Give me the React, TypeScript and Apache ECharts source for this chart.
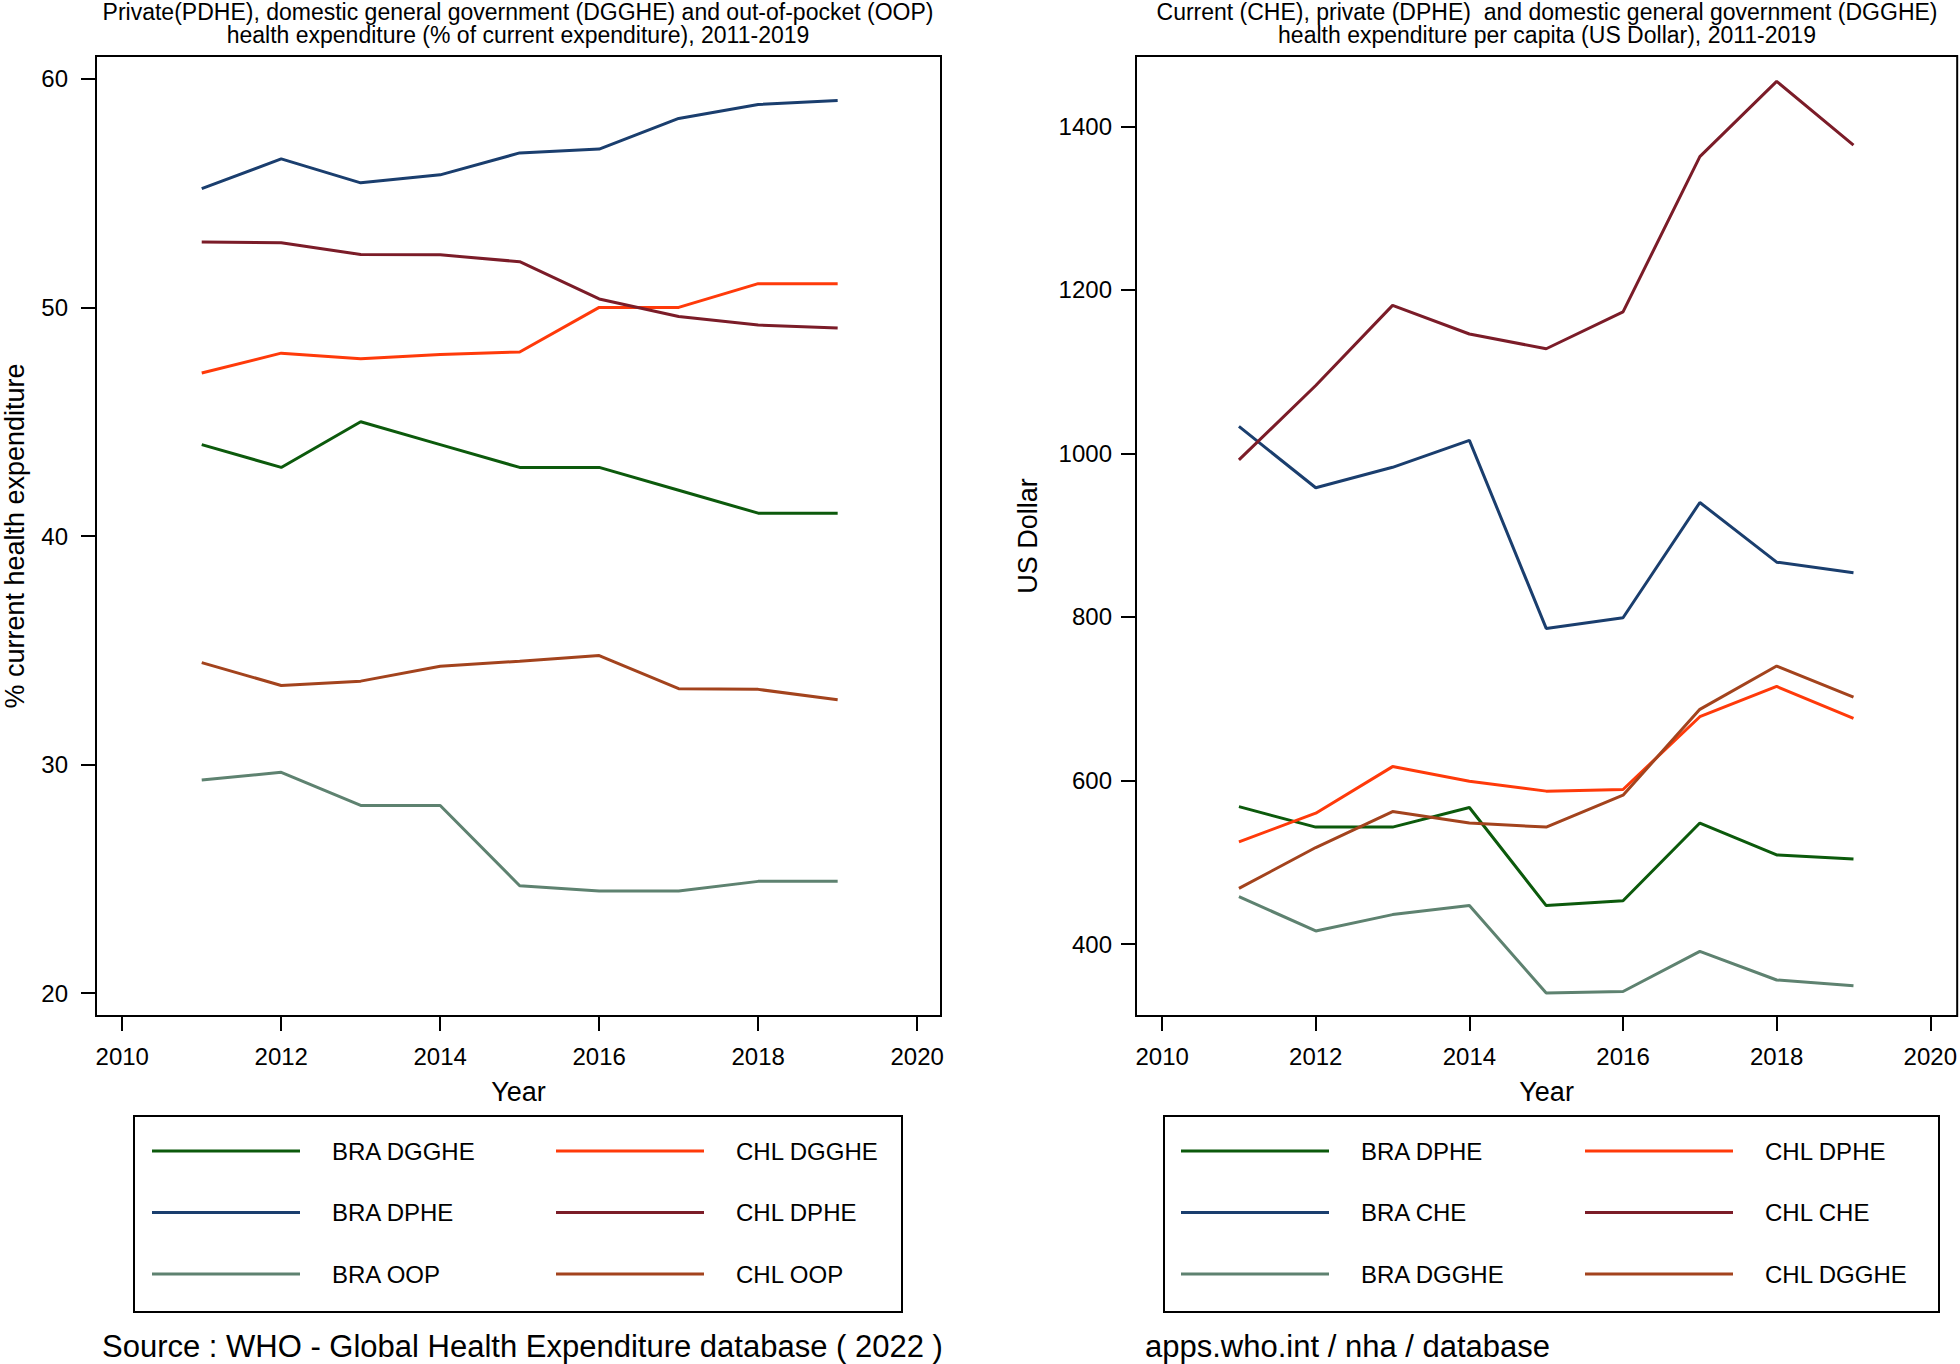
import React, { useEffect, useRef } from "react";
import * as echarts from "echarts";

const years = [2011, 2012, 2013, 2014, 2015, 2016, 2017, 2018, 2019];

// Left panel: % of current health expenditure
const braDgghePct = [44, 43, 45, 44, 43, 43, 42, 41, 41];
const braDphePct = [55.2, 56.5, 55.45, 55.8, 56.76, 56.93, 58.27, 58.88, 59.05];
const braOopPct = [29.33, 29.66, 28.21, 28.21, 24.7, 24.47, 24.47, 24.89, 24.89];
const chlDgghePct = [47.13, 48.0, 47.75, 47.94, 48.05, 50.0, 50.0, 51.04, 51.04];
const chlDphePct = [52.86, 52.83, 52.32, 52.3, 52.0, 50.37, 49.6, 49.23, 49.1];
const chlOopPct = [34.46, 33.46, 33.65, 34.3, 34.52, 34.77, 33.32, 33.29, 32.84];

// Right panel: per capita US Dollar
const braDphePc = [568, 543, 543, 567, 447, 453, 548, 509, 504];
const braChePc = [1033, 958, 983, 1016, 786, 799, 940, 867, 854];
const braDgghePc = [458, 416, 436, 447, 340, 342, 391, 356, 349];
const chlDphePc = [525, 560, 617, 599, 587, 589, 678, 715, 676];
const chlChePc = [992, 1083, 1181, 1146, 1128, 1173, 1363, 1455, 1377];
const chlDgghePc = [468, 518, 562, 548, 543, 582, 687, 740, 702];

const xTicks = [2010, 2012, 2014, 2016, 2018, 2020];
const yTicksLeft = [20, 30, 40, 50, 60];
const yTicksRight = [400, 600, 800, 1000, 1200, 1400];

const leftTitle =
  "Private(PDHE), domestic general government (DGGHE) and out-of-pocket (OOP)\nhealth expenditure (% of current expenditure), 2011-2019";
const rightTitle =
  "Current (CHE), private (DPHE)  and domestic general government (DGGHE)\nhealth expenditure per capita (US Dollar), 2011-2019";
const leftYName = "% current health expenditure";
const rightYName = "US Dollar";
const xName = "Year";
const leftSource = "Source : WHO - Global Health Expenditure database ( 2022 )";
const rightSource = "apps.who.int / nha / database";

const SUFFIX = " (per capita)";

const C_GREEN = "#0c5a0c";
const C_NAVY = "#1a3e6e";
const C_TEAL = "#5e8270";
const C_ORANGE = "#ff3a0a";
const C_MAROON = "#7b1c28";
const C_SIENNA = "#a3431d";

const FONT = 'Arial, "Liberation Sans", sans-serif';

const leftSeries = [
  { name: "BRA DGGHE", values: braDgghePct, color: C_GREEN },
  { name: "BRA DPHE", values: braDphePct, color: C_NAVY },
  { name: "BRA OOP", values: braOopPct, color: C_TEAL },
  { name: "CHL DGGHE", values: chlDgghePct, color: C_ORANGE },
  { name: "CHL DPHE", values: chlDphePct, color: C_MAROON },
  { name: "CHL OOP", values: chlOopPct, color: C_SIENNA },
];

const rightSeries = [
  { name: "BRA DPHE", values: braDphePc, color: C_GREEN },
  { name: "BRA CHE", values: braChePc, color: C_NAVY },
  { name: "BRA DGGHE", values: braDgghePc, color: C_TEAL },
  { name: "CHL DPHE", values: chlDphePc, color: C_ORANGE },
  { name: "CHL CHE", values: chlChePc, color: C_MAROON },
  { name: "CHL DGGHE", values: chlDgghePc, color: C_SIENNA },
];

function makeSeries(defs: any[], axisIndex: number, suffix: string) {
  return defs.map((d) => ({
    type: "line",
    name: d.name + suffix,
    xAxisIndex: axisIndex,
    yAxisIndex: axisIndex,
    data: years.map((y, i) => [y, d.values[i]]),
    symbol: "none",
    showSymbol: false,
    color: d.color,
    itemStyle: { color: d.color },
    lineStyle: { color: d.color, width: 3 },
  }));
}

const plain = (v: number) => String(v);

function xAxisDef(gridIndex: number, min: number, max: number) {
  return {
    type: "value",
    gridIndex,
    min,
    max,
    name: xName,
    nameLocation: "middle",
    nameGap: 62,
    nameTextStyle: { fontSize: 27, color: "#000", fontFamily: FONT },
    axisLine: { show: false },
    splitLine: { show: false },
    axisTick: {
      show: true,
      length: 15,
      customValues: xTicks,
      lineStyle: { color: "#000", width: 2 },
    },
    axisLabel: {
      customValues: xTicks,
      formatter: plain,
      fontSize: 24,
      color: "#000",
      fontFamily: FONT,
      margin: 28,
    },
  };
}

function yAxisDef(gridIndex: number, min: number, max: number, ticks: number[], name: string, nameGap: number, margin: number) {
  return {
    type: "value",
    gridIndex,
    min,
    max,
    name,
    nameLocation: "middle",
    nameGap,
    nameTextStyle: { fontSize: 27, color: "#000", fontFamily: FONT },
    axisLine: { show: false },
    splitLine: { show: false },
    axisTick: {
      show: true,
      length: 15,
      customValues: ticks,
      lineStyle: { color: "#000", width: 2 },
    },
    axisLabel: {
      customValues: ticks,
      formatter: plain,
      fontSize: 24,
      color: "#000",
      fontFamily: FONT,
      margin,
    },
  };
}

function legendDef(left: number, names: string[], strip: boolean) {
  return {
    orient: "vertical",
    left,
    top: 1139,
    icon: "rect",
    itemWidth: 148,
    itemHeight: 3,
    itemGap: 37.5,
    padding: 0,
    data: names,
    textStyle: {
      fontSize: 24,
      lineHeight: 24,
      color: "#000",
      fontFamily: FONT,
      padding: [0, 0, 0, 27],
    },
    formatter: strip ? (n: string) => n.replace(SUFFIX, "") : undefined,
  };
}

export default function App() {
  const ref = useRef<HTMLDivElement>(null);

  useEffect(() => {
    if (!ref.current) return;
    const chart = echarts.init(ref.current, undefined, { renderer: "svg" });

    const titleStyle = { fontSize: 23, lineHeight: 23, fontWeight: "normal", color: "#000", fontFamily: FONT };

    const option: any = {
      animation: false,
      backgroundColor: "#fff",
      textStyle: { fontFamily: FONT },
      title: [
        { text: leftTitle, left: 518, top: 0, padding: 0, textAlign: "center", textStyle: titleStyle },
        { text: rightTitle, left: 1547, top: 0, padding: 0, textAlign: "center", textStyle: titleStyle },
      ],
      grid: [
        { left: 96, top: 56, width: 845, height: 960, show: true, borderColor: "#000", borderWidth: 2, backgroundColor: "transparent" },
        { left: 1136, top: 56, width: 822, height: 960, show: true, borderColor: "#000", borderWidth: 2, backgroundColor: "transparent" },
      ],
      xAxis: [xAxisDef(0, 2009.67, 2020.3), xAxisDef(1, 2009.66, 2020.35)],
      yAxis: [
        yAxisDef(0, 19, 61, yTicksLeft, leftYName, 68, 28),
        yAxisDef(1, 312, 1486, yTicksRight, rightYName, 95, 24),
      ],
      legend: [
        legendDef(152, leftSeries.slice(0, 3).map((d) => d.name), false),
        legendDef(556, leftSeries.slice(3).map((d) => d.name), false),
        legendDef(1181, rightSeries.slice(0, 3).map((d) => d.name + SUFFIX), true),
        legendDef(1585, rightSeries.slice(3).map((d) => d.name + SUFFIX), true),
      ],
      graphic: [
        {
          type: "rect",
          shape: { x: 134, y: 1116, width: 768, height: 196 },
          style: { fill: "none", stroke: "#000", lineWidth: 2 },
          silent: true,
        },
        {
          type: "rect",
          shape: { x: 1164, y: 1116, width: 775, height: 196 },
          style: { fill: "none", stroke: "#000", lineWidth: 2 },
          silent: true,
        },
        {
          type: "text",
          x: 102,
          y: 1346,
          style: { text: leftSource, fontSize: 31, fill: "#000", fontFamily: FONT, textVerticalAlign: "middle" },
        },
        {
          type: "text",
          x: 1145,
          y: 1346,
          style: { text: rightSource, fontSize: 31, fill: "#000", fontFamily: FONT, textVerticalAlign: "middle" },
        },
      ],
      series: [...makeSeries(leftSeries, 0, ""), ...makeSeries(rightSeries, 1, SUFFIX)],
    };

    chart.setOption(option);
    return () => chart.dispose();
  }, []);

  return (
    <div
      ref={ref}
      style={{ position: "absolute", left: 0, top: 0, width: 1960, height: 1364, background: "#fff" }}
    />
  );
}
